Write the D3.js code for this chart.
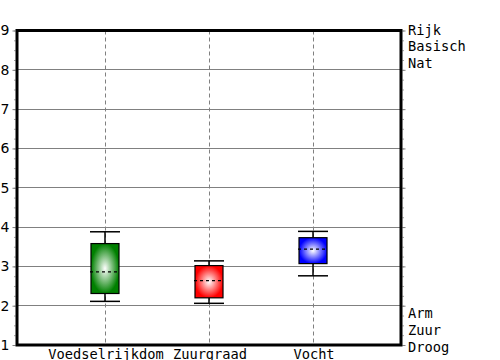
<!DOCTYPE html>
<html><head><meta charset="utf-8">
<script src="https://cdn.jsdelivr.net/npm/d3@7"></script>
<style>html,body{margin:0;padding:0;background:#fff;}svg{display:block;}</style>
</head><body>
<script>
const categories = ["Voedselrijkdom", "Zuurgraad", "Vocht"];
const whiskerLow  = [2.11, 2.06, 2.76];
const q1          = [2.31, 2.20, 3.07];
const median      = [2.86, 2.64, 3.44];
const q3          = [3.58, 3.02, 3.73];
const whiskerHigh = [3.88, 3.14, 3.89];
const boxColors   = ["#008000", "#ff0000", "#0000ff"];
const yTicks      = [1, 2, 3, 4, 5, 6, 7, 8, 9];
const highLabels  = ["Rijk", "Basisch", "Nat"];
const lowLabels   = ["Arm", "Zuur", "Droog"];

const W = 500, H = 360;
const L = 17, R = 401, T = 30.5, B = 345;
const svg = d3.select("body").append("svg").attr("width", W).attr("height", H);

const y = d3.scaleLinear().domain([1, 9]).range([B, T]);
const x = d3.scalePoint().domain(categories).range([L, R]).padding(0.846);
const minor = d3.range(1, 9.001, 0.25);

const defs = svg.append("defs");
categories.forEach((c, i) => {
  const g = defs.append("radialGradient").attr("id", "grad" + i)
    .attr("cx", "50%").attr("cy", "50%").attr("r", "50%");
  g.append("stop").attr("offset", "0%").attr("stop-color", "#ffffff");
  g.append("stop").attr("offset", "100%").attr("stop-color", boxColors[i]);
});

// horizontal gridlines
svg.append("g").selectAll("line").data(yTicks.slice(1, -1)).join("line")
  .attr("x1", L).attr("x2", R)
  .attr("y1", d => y(d)).attr("y2", d => y(d))
  .attr("stroke", "#808080").attr("stroke-width", 1).attr("shape-rendering", "crispEdges");

// vertical dashed gridlines
svg.append("g").selectAll("line").data(categories).join("line")
  .attr("x1", d => Math.round(x(d)) + 0.5).attr("x2", d => Math.round(x(d)) + 0.5)
  .attr("y1", T).attr("y2", B)
  .attr("stroke", "#808080").attr("stroke-width", 1).attr("stroke-dasharray", "4,3");

// axes
function styleAxis(g, col) {
  g.select(".domain").remove();
  g.selectAll(".tick line").attr("stroke", col);
}
const leftMinor = svg.append("g").attr("transform", `translate(${L - 1.5},0)`)
  .call(d3.axisLeft(y).tickValues(minor).tickSize(1.5).tickFormat(""));
styleAxis(leftMinor, "#a0a0a0");
const leftAx = svg.append("g").attr("transform", `translate(${L - 1.5},0)`)
  .call(d3.axisLeft(y).tickValues(yTicks).tickSize(3).tickPadding(3).tickFormat(d3.format("d")));
styleAxis(leftAx, "#808080");
leftAx.attr("font-size", null).attr("font-family", null);
leftAx.selectAll("text")
  .style("font-family", "'DejaVu Sans', Verdana, sans-serif")
  .style("font-size", "14px").attr("fill", "#000");

const rightMinor = svg.append("g").attr("transform", `translate(${R + 1.5},0)`)
  .call(d3.axisRight(y).tickValues(minor).tickSize(1.5).tickFormat(""));
styleAxis(rightMinor, "#a0a0a0");
const rightAx = svg.append("g").attr("transform", `translate(${R + 1.5},0)`)
  .call(d3.axisRight(y).tickValues(yTicks).tickSize(3).tickFormat(""));
styleAxis(rightAx, "#808080");

// frame
svg.append("rect").attr("x", L).attr("y", T).attr("width", R - L).attr("height", B - T)
  .attr("fill", "none").attr("stroke", "#000").attr("stroke-width", 3);

// boxes
const bw = 28, cw = 30;
const grp = svg.append("g").selectAll("g").data(categories).join("g");
grp.append("line").attr("x1", d => x(d)).attr("x2", d => x(d))
  .attr("y1", (d, i) => y(whiskerHigh[i])).attr("y2", (d, i) => y(q3[i]))
  .attr("stroke", "#000").attr("stroke-width", 1.5);
grp.append("line").attr("x1", d => x(d)).attr("x2", d => x(d))
  .attr("y1", (d, i) => y(q1[i])).attr("y2", (d, i) => y(whiskerLow[i]))
  .attr("stroke", "#000").attr("stroke-width", 1.5);
grp.append("line").attr("x1", d => x(d) - cw / 2).attr("x2", d => x(d) + cw / 2)
  .attr("y1", (d, i) => y(whiskerHigh[i])).attr("y2", (d, i) => y(whiskerHigh[i]))
  .attr("stroke", "#000").attr("stroke-width", 1.5);
grp.append("line").attr("x1", d => x(d) - cw / 2).attr("x2", d => x(d) + cw / 2)
  .attr("y1", (d, i) => y(whiskerLow[i])).attr("y2", (d, i) => y(whiskerLow[i]))
  .attr("stroke", "#000").attr("stroke-width", 1.5);
grp.append("rect").attr("x", d => x(d) - bw / 2).attr("width", bw)
  .attr("y", (d, i) => y(q3[i])).attr("height", (d, i) => y(q1[i]) - y(q3[i]))
  .attr("fill", (d, i) => `url(#grad${i})`).attr("stroke", "#000").attr("stroke-width", 1.2);
grp.append("line").attr("x1", d => x(d) - cw / 2).attr("x2", d => x(d) + cw / 2)
  .attr("y1", (d, i) => y(median[i])).attr("y2", (d, i) => y(median[i]))
  .attr("stroke", "#000").attr("stroke-width", 1.2).attr("stroke-dasharray", "3,3");

// category labels
svg.append("g").selectAll("text").data(categories).join("text")
  .attr("x", d => x(d) + 1).attr("y", 358.5).attr("text-anchor", "middle")
  .attr("font-family", "DejaVu Sans Mono, monospace").attr("font-size", "13.7px")
  .text(d => d);

// right side labels
const lh = 16.9;
svg.append("g").selectAll("text").data(highLabels).join("text")
  .attr("x", R + 7).attr("y", (d, i) => y(9) - 1 + i * lh)
  .attr("dominant-baseline", "central")
  .attr("font-family", "DejaVu Sans Mono, monospace").attr("font-size", "13.7px")
  .text(d => d);
svg.append("g").selectAll("text").data(lowLabels).join("text")
  .attr("x", R + 7).attr("y", (d, i) => y(1) + 1.5 - (lowLabels.length - 1 - i) * lh)
  .attr("dominant-baseline", "central")
  .attr("font-family", "DejaVu Sans Mono, monospace").attr("font-size", "13.7px")
  .text(d => d);
</script>
</body></html>
